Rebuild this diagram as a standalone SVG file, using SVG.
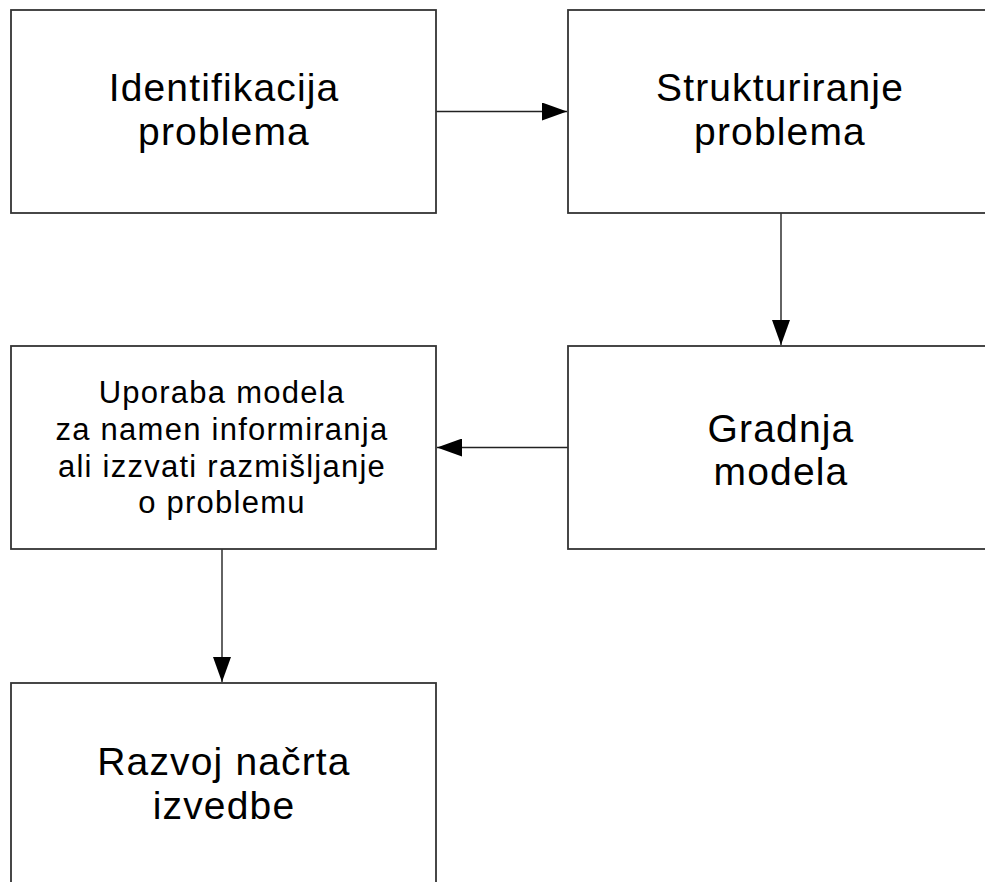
<svg xmlns="http://www.w3.org/2000/svg" width="985" height="882" viewBox="0 0 985 882">
<style>
.box{fill:#ffffff;stroke:#333333;stroke-width:1.8}
.big{font-family:"Liberation Sans",Arial,sans-serif;font-size:39px;letter-spacing:1.15px;fill:#000000;text-anchor:middle}
.small{font-family:"Liberation Sans",Arial,sans-serif;font-size:31px;letter-spacing:1.25px;fill:#000000;text-anchor:middle}
.conn{stroke:#222222;stroke-width:1.4;fill:none}
</style>
<defs>
<marker id="arr" viewBox="0 0 25 18" refX="25" refY="9" markerWidth="25" markerHeight="18" markerUnits="userSpaceOnUse" orient="auto">
<path d="M0,0 L25,9 L0,18 Z" fill="#000000"/>
</marker>
</defs>
<rect width="985" height="882" fill="#ffffff"/>
<g id="connectors">
<line class="conn" x1="436" y1="111.5" x2="567" y2="111.5" marker-end="url(#arr)"/>
<line class="conn" x1="781" y1="213" x2="781" y2="345" marker-end="url(#arr)"/>
<line class="conn" x1="568" y1="447.5" x2="437" y2="447.5" marker-end="url(#arr)"/>
<line class="conn" x1="222" y1="549" x2="222" y2="682" marker-end="url(#arr)"/>
</g>
<g id="node1">
<rect class="box" x="11" y="10" width="425" height="203"/>
<text class="big" x="224" y="101">Identifikacija</text>
<text class="big" x="224" y="145">problema</text>
</g>
<g id="node2">
<rect class="box" x="568" y="10" width="425" height="203"/>
<text class="big" x="780" y="101">Strukturiranje</text>
<text class="big" x="780" y="145">problema</text>
</g>
<g id="node3">
<rect class="box" x="568" y="346" width="425" height="203"/>
<text class="big" x="781" y="442">Gradnja</text>
<text class="big" x="781" y="485">modela</text>
</g>
<g id="node4">
<rect class="box" x="11" y="346" width="425" height="203"/>
<text class="small" x="222" y="403">Uporaba modela</text>
<text class="small" x="222" y="440">za namen informiranja</text>
<text class="small" x="222" y="477">ali izzvati razmišljanje</text>
<text class="small" x="222" y="513">o problemu</text>
</g>
<g id="node5">
<rect class="box" x="11" y="683" width="425" height="220"/>
<text class="big" x="224" y="775">Razvoj načrta</text>
<text class="big" x="224" y="819">izvedbe</text>
</g>
</svg>
